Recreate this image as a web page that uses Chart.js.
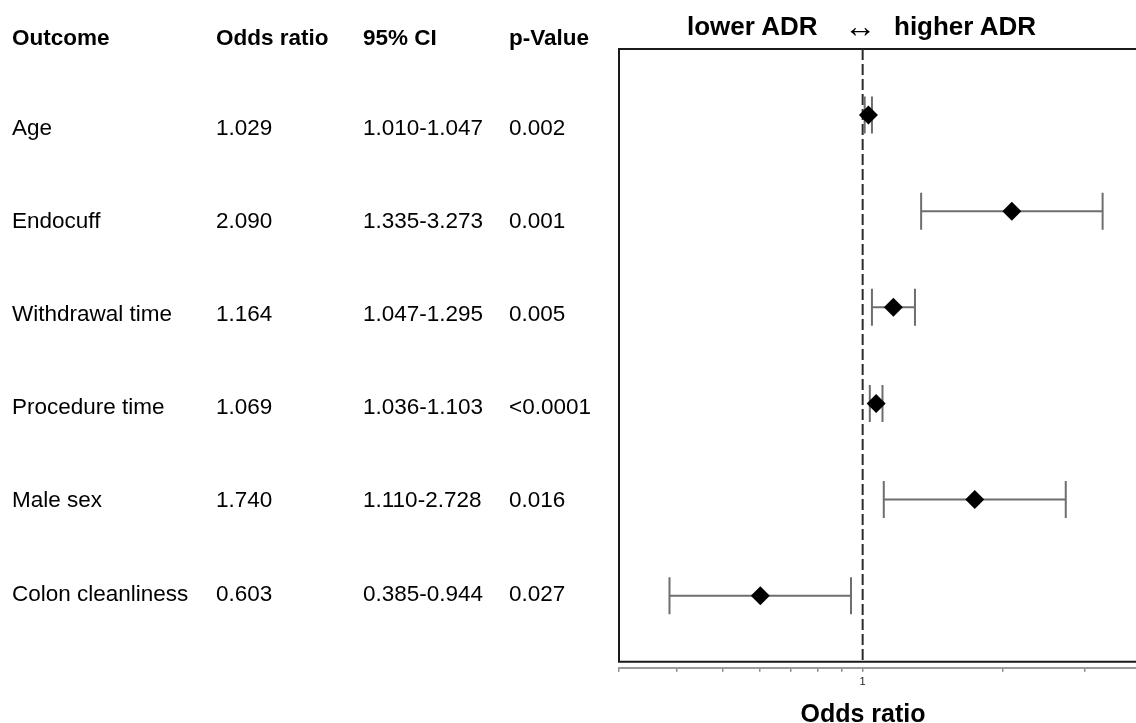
<!DOCTYPE html>
<html>
<head>
<meta charset="utf-8">
<title>Forest plot - ADR</title>
<script src="https://cdn.jsdelivr.net/npm/chart.js@4.4.1/dist/chart.umd.min.js"></script>
<style>
    html, body { margin: 0; padding: 0; background: #fff; overflow: hidden; }
    #wrap { position: relative; width: 1136px; height: 723px; font-family: 'Liberation Sans', Arial, sans-serif; color: #000; }
    #wrap canvas { position: absolute; left: 0; top: 0; }
    .txt { position: absolute; white-space: pre; line-height: 30px; transform: translateY(-50%); font-size: 22.5px; }
    .hd { font-weight: bold; }
    .big { font-weight: bold; font-size: 26px; }
    .ctr { transform: translate(-50%, -50%); }
</style>
</head>
<body>
<div id="wrap">
    <canvas id="forestChart" width="1136" height="723" style="width:1136px;height:723px"></canvas>
</div>
<script>
// ---- data ----
const outcomes = ['Age', 'Endocuff', 'Withdrawal time', 'Procedure time', 'Male sex', 'Colon cleanliness'];
const oddsRatio = [1.029, 2.090, 1.164, 1.069, 1.740, 0.603];
const ciLower = [1.010, 1.335, 1.047, 1.036, 1.110, 0.385];
const ciUpper = [1.047, 3.273, 1.295, 1.103, 2.728, 0.944];
const pValues = ['0.002', '0.001', '0.005', '<0.0001', '0.016', '0.027'];
const tableHeaders = ['Outcome', 'Odds ratio', '95% CI', 'p-Value'];
const xTickValues = [0.3, 0.4, 0.5, 0.6, 0.7, 0.8, 0.9, 1, 2, 3];
const xTickLabels = { 1: '1' };

// ---- table text (left side) ----
const wrap = document.getElementById('wrap');
const columnX = [12, 216, 363, 509];

function addText(str, x, y, cls) {
    const d = document.createElement('div');
    d.className = 'txt ' + (cls || '');
    d.textContent = str;
    d.style.left = x + 'px';
    d.style.top = y + 'px';
    wrap.appendChild(d);
    return d;
}

tableHeaders.forEach((h, c) => addText(h, columnX[c], 37.5, 'hd'));
outcomes.forEach((name, i) => {
    const y = 127.5 + 93.2 * i;
    addText(name, columnX[0], y);
    addText(oddsRatio[i].toFixed(3), columnX[1], y);
    addText(ciLower[i].toFixed(3) + '-' + ciUpper[i].toFixed(3), columnX[2], y);
    addText(pValues[i], columnX[3], y);
});

addText('lower ADR', 687, 25.5, 'big');
const arrow = addText('\u2194', 860, 26, 'big ctr');
arrow.style.fontWeight = 'normal';
arrow.style.fontSize = '32px';
addText('higher ADR', 894, 25.5, 'big');
const xTitle = addText('Odds ratio', 863, 713, 'big ctr');
xTitle.style.fontSize = '25px';

// ---- box + reference line ----
const frameLines = {
    id: 'frameLines',
    beforeDatasetsDraw(chart) {
        const { ctx, chartArea, scales } = chart;
        const top = chartArea.top;
        const bottom = chartArea.bottom - 6;
        const left = chartArea.left;
        ctx.save();
        ctx.strokeStyle = '#1a1a1a';
        ctx.lineWidth = 2;
        ctx.beginPath();
        ctx.moveTo(chart.width + 10, top);
        ctx.lineTo(left, top);
        ctx.lineTo(left, bottom);
        ctx.lineTo(chart.width + 10, bottom);
        ctx.stroke();

        // dashed line at OR = 1
        const x1 = scales.x.getPixelForValue(1);
        ctx.setLineDash([11, 4]);
        ctx.strokeStyle = '#2b2b2b';
        ctx.beginPath();
        ctx.moveTo(x1, top);
        ctx.lineTo(x1, bottom);
        ctx.stroke();
        ctx.restore();
    }
};

// ---- datasets ----
const datasets = [{
    label: 'Odds ratio',
    data: oddsRatio.map((v, i) => ({ x: v, y: i + 1 })),
    pointStyle: 'rectRot',
    pointRadius: 9.5,
    pointBackgroundColor: '#000',
    pointBorderWidth: 0,
    showLine: false
}];

outcomes.forEach((name, i) => {
    datasets.push({
        label: name + ' CI',
        data: [{ x: ciLower[i], y: i + 1 }, { x: ciUpper[i], y: i + 1 }],
        showLine: true,
        borderColor: '#6e6e6e',
        borderWidth: 2,
        pointStyle: 'line',
        rotation: 90,
        pointRadius: 18.5,
        pointBorderColor: '#6e6e6e',
        pointBorderWidth: 2
    });
});

new Chart(document.getElementById('forestChart'), {
    type: 'scatter',
    data: { datasets: datasets },
    plugins: [frameLines],
    options: {
        responsive: false,
        animation: false,
        layout: {
            autoPadding: false,
            padding: { left: 619, top: 49, right: 0, bottom: 30 }
        },
        plugins: {
            legend: { display: false },
            tooltip: { enabled: false }
        },
        scales: {
            x: {
                type: 'logarithmic',
                min: 0.3,
                max: 3.86,
                afterBuildTicks(scale) {
                    scale.ticks = xTickValues.map(v => ({ value: v }));
                },
                ticks: {
                    autoSkip: false,
                    maxRotation: 0,
                    padding: 4,
                    color: '#222',
                    font: { family: "'Liberation Sans', Arial, sans-serif", size: 11 },
                    callback: (value) => xTickLabels[value] || ''
                },
                grid: {
                    drawOnChartArea: false,
                    drawTicks: true,
                    tickLength: 4,
                    color: '#8a8a8a',
                    lineWidth: 1.5
                },
                border: { display: true, color: '#9a9a9a', width: 2 }
            },
            y: {
                type: 'linear',
                display: false,
                reverse: true,
                min: 0.3125,
                max: 6.75
            }
        }
    }
});
</script>
</body>
</html>
